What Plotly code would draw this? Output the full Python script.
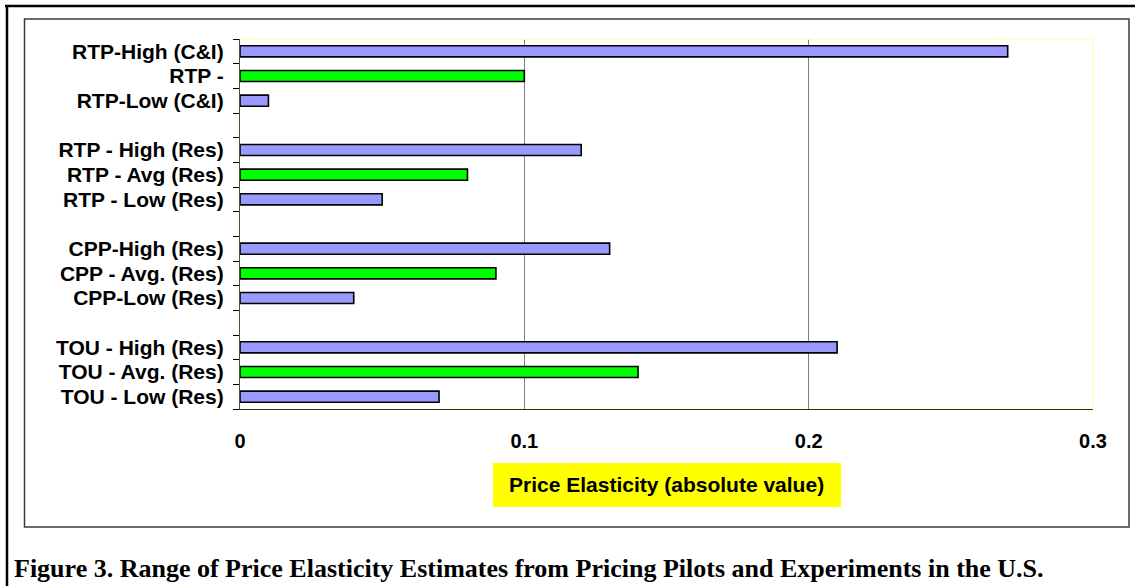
import plotly.graph_objects as go

# Pilot results, listed top to bottom; blank entries separate the programme groups
categories = [
    "RTP-High (C&I)", "RTP -", "RTP-Low (C&I)", " ",
    "RTP - High (Res)", "RTP - Avg (Res)", "RTP - Low (Res)", "  ",
    "CPP-High (Res)", "CPP - Avg. (Res)", "CPP-Low (Res)", "   ",
    "TOU - High (Res)", "TOU - Avg. (Res)", "TOU - Low (Res)",
]
elasticity = [
    0.27, 0.10, 0.01, None,
    0.12, 0.08, 0.05, None,
    0.13, 0.09, 0.04, None,
    0.21, 0.14, 0.07,
]
estimate_kind = [
    "high", "avg", "low", None,
    "high", "avg", "low", None,
    "high", "avg", "low", None,
    "high", "avg", "low",
]
x_ticks = [0, 0.1, 0.2, 0.3]
x_tick_text = ["0", "0.1", "0.2", "0.3"]

kind_colour = {"high": "#9999FF", "low": "#9999FF", "avg": "#00FF00", None: "#FFFFFF"}
bar_colours = [kind_colour[k] for k in estimate_kind]

W, H = 1138, 586
L, R, T, B = 240, 1093, 39, 409  # plot area in pixels


def px(x):
    return (x - L) / (R - L)


def py(y):
    return (B - y) / (B - T)


fig = go.Figure(
    go.Bar(
        y=categories,
        x=elasticity,
        orientation="h",
        width=0.45,
        marker=dict(color=bar_colours, line=dict(color="#000000", width=1.6)),
        hoverinfo="x+y",
    )
)

label_font = dict(family="Liberation Sans, Arial, sans-serif", size=21, color="#000000")

fig.update_layout(
    width=W,
    height=H,
    margin=dict(l=L, r=W - R, t=T, b=H - B, pad=0),
    paper_bgcolor="#FFFFFF",
    plot_bgcolor="#FFFFFF",
    showlegend=False,
    bargap=0.55,
    font=label_font,
    xaxis=dict(
        range=[0, 0.3],
        tickvals=x_ticks,
        ticktext=["<b>%s</b>" % t for t in x_tick_text],
        showgrid=True,
        gridcolor="#808080",
        gridwidth=1,
        zeroline=False,
        showline=True,
        linecolor="#333300",
        linewidth=1.2,
        ticks="",
        ticklabelstandoff=14,
        tickfont=dict(label_font, size=20),
        fixedrange=True,
    ),
    yaxis=dict(
        type="category",
        categoryorder="array",
        categoryarray=categories,
        autorange="reversed",
        tickmode="array",
        tickvals=categories,
        ticktext=["<b>%s</b>" % c if c.strip() else "" for c in categories],
        tickson="boundaries",
        ticks="outside",
        ticklen=6,
        tickwidth=1.2,
        tickcolor="#000000",
        ticklabelstandoff=11,
        showgrid=False,
        zeroline=False,
        showline=True,
        linecolor="#555533",
        linewidth=1.2,
        tickfont=label_font,
        fixedrange=True,
    ),
)

shapes = [
    # page rules: top and left
    dict(type="line", xref="paper", yref="paper", x0=px(5), x1=px(1135), y0=py(6), y1=py(6),
         line=dict(color="#000000", width=2.5)),
    dict(type="line", xref="paper", yref="paper", x0=px(7), x1=px(7), y0=py(5), y1=py(590),
         line=dict(color="#000000", width=2.5)),
    # chart frame
    dict(type="rect", xref="paper", yref="paper", x0=px(24.5), x1=px(1129), y0=py(19), y1=py(527),
         line=dict(color="#3A3A3A", width=1.5)),
    # light plot-area border on top and right
    dict(type="line", xref="paper", yref="paper", x0=0, x1=1, y0=1, y1=1,
         line=dict(color="#FFFFC8", width=1.5), layer="above"),
    dict(type="line", xref="paper", yref="paper", x0=1, x1=1, y0=0, y1=1,
         line=dict(color="#FFFFC8", width=1.5), layer="above"),
    # highlighted box behind the axis title
    dict(type="rect", xref="paper", yref="paper", x0=px(493), x1=px(841), y0=py(463), y1=py(507),
         fillcolor="#FFFF00", line=dict(width=0), layer="below"),
]
fig.update_layout(shapes=shapes)

fig.add_annotation(
    xref="paper", yref="paper", x=px(666), y=py(484),
    text="<b>Price Elasticity (absolute value)</b>",
    showarrow=False, xanchor="center", yanchor="middle",
    font=dict(family="Liberation Sans, Arial, sans-serif", size=21, color="#000000"),
)
fig.add_annotation(
    xref="paper", yref="paper", x=px(12), y=py(568), yanchor="middle", xanchor="left",
    text="<b>Figure 3. Range of Price Elasticity Estimates from Pricing Pilots and Experiments in the U.S.</b>",
    showarrow=False,
    font=dict(family="Liberation Serif, Times New Roman, serif", size=26, color="#000000"),
)

fig.write_html("out.html", config={"displayModeBar": False})
